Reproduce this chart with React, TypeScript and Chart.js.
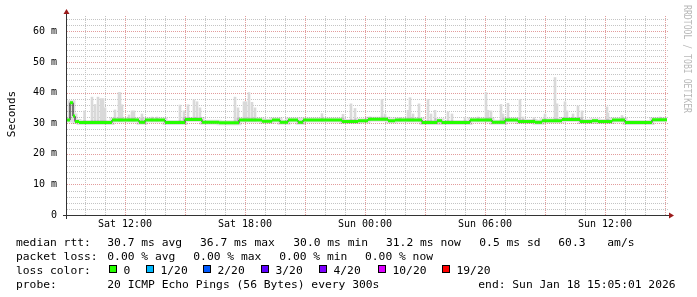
import React, { useEffect, useRef } from "react";
import { Chart, registerables } from "chart.js";

Chart.register(...registerables);

// ---------- data (hours since Sat 00:00) ----------
const xTickValues = [12, 18, 24, 30, 36];
const xTickLabels = ["Sat 12:00", "Sat 18:00", "Sun 00:00", "Sun 06:00", "Sun 12:00"];
const yTickValues = [0, 10, 20, 30, 40, 50, 60];
const yTickLabels = ["0", "10 m", "20 m", "30 m", "40 m", "50 m", "60 m"];

// median rtt (ms), each value holds from its time until the next one
const medianTimes = [
  9.1, 9.25, 9.4, 9.5, 9.7, 11.35, 12.7, 13.0, 14.0, 15.0,
  15.85, 16.7, 17.7, 18.85, 19.35, 19.75, 20.15, 20.65, 20.9, 22.85,
  23.65, 24.15, 25.15, 25.5, 26.85, 27.6, 27.85, 29.25, 30.35, 31.0,
  31.65, 32.5, 32.85, 33.85, 34.75, 35.35, 35.65, 36.35, 37.0, 38.35,
];
const medianValues = [
  31.0, 36.7, 32.3, 30.5, 30.2, 31.0, 30.3, 31.0, 30.2, 31.2,
  30.3, 30.1, 31.0, 30.6, 31.0, 30.3, 31.0, 30.3, 31.0, 30.5,
  30.8, 31.3, 30.8, 31.0, 30.2, 30.8, 30.2, 31.0, 30.3, 31.0,
  30.5, 30.3, 30.8, 31.2, 30.5, 30.8, 30.5, 31.0, 30.2, 31.1,
];

// smoke spikes: time and top value (ms)
const smokeTimes = [
  9.98, 10.35, 10.5, 10.65, 10.8, 10.9, 11.0, 11.5, 11.7, 11.75,
  11.85, 12.2, 12.35, 12.45, 12.85, 13.35, 13.6, 14.75, 14.95, 15.15,
  15.45, 15.6, 15.75, 17.5, 17.65, 17.95, 18.05, 18.2, 18.35, 18.5,
  21.85, 22.9, 23.3, 23.5, 24.25, 24.85, 25.0, 25.75, 26.15, 26.25,
  26.4, 26.7, 27.15, 27.3, 27.5, 28.15, 28.35, 29.0, 29.65, 30.05,
  30.15, 30.3, 30.8, 30.9, 31.15, 31.75, 31.9, 32.45, 33.0, 33.5,
  33.6, 34.0, 34.1, 34.4, 34.65, 34.85, 36.1, 36.15, 36.85, 38.75,
];
const smokeTops = [
  34.0, 38.5, 36.1, 38.5, 38.0, 38.0, 35.0, 34.3, 40.0, 40.0,
  36.0, 32.7, 34.0, 34.0, 33.0, 32.0, 32.0, 35.9, 34.0, 36.0,
  37.6, 37.0, 35.0, 38.5, 35.0, 37.0, 37.0, 40.0, 36.8, 35.0,
  33.1, 32.9, 36.3, 34.8, 32.0, 37.8, 33.0, 31.8, 34.2, 38.3,
  33.0, 36.3, 37.8, 33.0, 34.2, 33.7, 33.0, 31.8, 32.0, 40.0,
  34.2, 34.0, 36.1, 33.0, 36.5, 37.8, 32.0, 31.8, 33.0, 44.9,
  36.3, 37.0, 34.0, 33.0, 35.6, 34.0, 35.3, 33.3, 32.5, 32.0,
];

const statsRtt = ["median rtt:", "30.7 ms avg", "36.7 ms max", "30.0 ms min", "31.2 ms now", "0.5 ms sd", "60.3", "am/s"];
const statsLoss = ["packet loss:", "0.00 % avg", "0.00 % max", "0.00 % min", "0.00 % now"];
const lossTitle = "loss color:";
const lossLabels = ["0", "1/20", "2/20", "3/20", "4/20", "10/20", "19/20"];
const lossColors = ["#26ff00", "#00b8ff", "#0059ff", "#5e00ff", "#7e00ff", "#dd00ff", "#ff0000"];
const probeRow = ["probe:", "20 ICMP Echo Pings (56 Bytes) every 300s", "end: Sun Jan 18 15:05:01 2026"];
const yTitle = "Seconds";
const watermark = "RRDTOOL / TOBI OETIKER";

// ---------- layout ----------
const X_MIN = 9.1;
const X_MAX = 39.1;
const Y_MAX = 65;
const MONO = '"DejaVu Sans Mono"';

function medianAt(t: number): number {
  let v = medianValues[0];
  for (let i = 0; i < medianTimes.length; i++) if (medianTimes[i] <= t) v = medianValues[i];
  return v;
}

const rrdPlugin = {
  id: "rrdDecor",
  beforeDatasetsDraw(chart: any) {
    const { ctx, chartArea, scales } = chart;
    const { left, right, top, bottom } = chartArea;
    const x = scales.x, y = scales.y;
    ctx.save();
    ctx.lineWidth = 1;
    ctx.setLineDash([1, 1]);
    const hLine = (v: number, c: string) => {
      const py = Math.round(y.getPixelForValue(v)) + 0.5;
      ctx.strokeStyle = c;
      ctx.beginPath();
      ctx.moveTo(left, py);
      ctx.lineTo(right + 1, py);
      ctx.stroke();
    };
    const vLine = (v: number, c: string) => {
      const px = Math.round(x.getPixelForValue(v)) + 0.5;
      ctx.strokeStyle = c;
      ctx.beginPath();
      ctx.moveTo(px, top);
      ctx.lineTo(px, bottom);
      ctx.stroke();
    };
    const minorC = "#c4c4c4";
    const majorC = "#e29c9c";
    for (let v = 2; v < Y_MAX; v += 2) if (v % 10 !== 0) hLine(v, minorC);
    for (let h = Math.ceil(X_MIN); h <= X_MAX; h++) if (h % 3 !== 0) vLine(h, minorC);
    for (let v = 10; v < Y_MAX; v += 10) hLine(v, majorC);
    for (let h = Math.ceil(X_MIN); h <= X_MAX; h++) if (h % 3 === 0) vLine(h, majorC);
    ctx.restore();
  },
  afterDatasetsDraw(chart: any) {
    const { ctx, chartArea } = chart;
    const { left, right, top, bottom } = chartArea;
    ctx.save();
    ctx.setLineDash([]);
    ctx.lineWidth = 1;
    ctx.strokeStyle = "#333";
    ctx.beginPath();
    ctx.moveTo(left - 0.5, top - 2);
    ctx.lineTo(left - 0.5, bottom + 4);
    ctx.moveTo(left - 4, bottom + 0.5);
    ctx.lineTo(right + 2, bottom + 0.5);
    ctx.stroke();
    ctx.fillStyle = "#9b1b1b";
    ctx.beginPath();
    ctx.moveTo(left - 3.5, top - 2);
    ctx.lineTo(left + 2.5, top - 2);
    ctx.lineTo(left - 0.5, top - 7);
    ctx.closePath();
    ctx.fill();
    ctx.beginPath();
    ctx.moveTo(right + 2, bottom - 2.5);
    ctx.lineTo(right + 2, bottom + 3.5);
    ctx.lineTo(right + 7, bottom + 0.5);
    ctx.closePath();
    ctx.fill();
    ctx.restore();
  },
  afterDraw(chart: any) {
    const { ctx } = chart;
    ctx.save();
    // y title
    ctx.fillStyle = "#000";
    ctx.font = `11px ${MONO}`;
    ctx.textAlign = "center";
    ctx.textBaseline = "alphabetic";
    ctx.save();
    ctx.translate(15.3, 114);
    ctx.rotate(-Math.PI / 2);
    ctx.fillText(yTitle, 0, 0);
    ctx.restore();
    // watermark
    ctx.save();
    ctx.fillStyle = "#b9b9b9";
    ctx.font = `10.5px ${MONO}`;
    ctx.textAlign = "left";
    const w = ctx.measureText(watermark).width;
    ctx.translate(684, 5);
    ctx.rotate(Math.PI / 2);
    ctx.scale(108 / w, 1);
    ctx.fillText(watermark, 0, 0);
    ctx.restore();
    // legend
    ctx.fillStyle = "#000";
    ctx.font = `11.3px ${MONO}`;
    ctx.textAlign = "left";
    const row1X = [16, 107.3, 200, 293.3, 386, 479.3, 558.3, 607.3];
    statsRtt.forEach((t, i) => ctx.fillText(t, row1X[i], 245.5));
    const row2X = [16, 107.3, 193.3, 279.3, 365];
    statsLoss.forEach((t, i) => ctx.fillText(t, row2X[i], 259.7));
    ctx.fillText(lossTitle, 16, 273.8);
    const sqX = [109, 146, 203, 261, 319, 378, 442];
    lossLabels.forEach((t, i) => {
      const sx = sqX[i];
      ctx.fillStyle = lossColors[i];
      ctx.fillRect(sx, 265, 8, 8);
      ctx.strokeStyle = "#000";
      ctx.lineWidth = 1;
      ctx.strokeRect(sx + 0.5, 265.5, 7, 7);
      ctx.fillStyle = "#000";
      ctx.fillText(t, sx + 14.5, 273.8);
    });
    const row4X = [16, 107.3, 478.3];
    probeRow.forEach((t, i) => ctx.fillText(t, row4X[i], 288));
    ctx.restore();
  },
};

export default function App() {
  const ref = useRef<HTMLCanvasElement | null>(null);
  useEffect(() => {
    if (!ref.current) return;
    // stepped "before": each value holds from its own time until the next point
    const medianData = medianTimes.map((t, i) => ({ x: t, y: medianValues[i] }));
    medianData.push({ x: X_MAX, y: medianValues[medianValues.length - 1] });
    const greenData: { x: number; y: number | null }[] = [];
    medianTimes.forEach((t, i) => {
      const end = i + 1 < medianTimes.length ? medianTimes[i + 1] : X_MAX;
      greenData.push({ x: t, y: medianValues[i] });
      greenData.push({ x: end, y: medianValues[i] });
      greenData.push({ x: end, y: null });
    });
    const smokeData = smokeTimes.map((t, i) => ({ x: t, y: [medianAt(t) - 0.3, smokeTops[i]] }));

    const chart = new Chart(ref.current, {
      type: "line",
      data: {
        datasets: [
          {
            type: "bar",
            data: smokeData as any,
            backgroundColor: "#d9d9d9",
            borderWidth: 0,
            barThickness: 2,
            grouped: false,
            order: 4,
          } as any,
          {
            data: medianData,
            borderColor: "rgba(0,0,0,0.13)",
            borderWidth: 5,
            stepped: "before",
            pointRadius: 0,
            fill: false,
            order: 3,
          },
          {
            data: medianData,
            borderColor: "#111",
            borderWidth: 1,
            stepped: "before",
            pointRadius: 0,
            fill: false,
            order: 2,
          },
          {
            data: greenData as any,
            borderColor: "#26ff00",
            borderWidth: 3,
            borderCapStyle: "butt",
            spanGaps: false,
            pointRadius: 0,
            fill: false,
            order: 1,
          },
        ],
      },
      options: {
        animation: false,
        responsive: false,
        maintainAspectRatio: false,
        layout: { padding: { top: 14, right: 30, bottom: 62, left: 0 } },
        plugins: { legend: { display: false }, tooltip: { enabled: false } },
        scales: {
          x: {
            type: "linear",
            min: X_MIN,
            max: X_MAX,
            offset: false,
            grid: { display: false, drawTicks: false },
            border: { display: false },
            afterBuildTicks: (s: any) => {
              s.ticks = xTickValues.map((v) => ({ value: v }));
            },
            afterFit: (s: any) => {
              s.height = 20;
            },
            ticks: {
              autoSkip: false,
              maxRotation: 0,
              padding: 3,
              color: "#000",
              font: { family: "DejaVu Sans Mono", size: 10 },
              callback: (v: any) => {
                const i = xTickValues.indexOf(Number(v));
                return i >= 0 ? xTickLabels[i] : "";
              },
            },
          },
          y: {
            type: "linear",
            min: 0,
            max: Y_MAX,
            grid: { display: false, drawTicks: false },
            border: { display: false },
            afterBuildTicks: (s: any) => {
              s.ticks = yTickValues.map((v) => ({ value: v }));
            },
            afterFit: (s: any) => {
              s.width = 67;
            },
            ticks: {
              autoSkip: false,
              padding: 10,
              color: "#000",
              font: { family: "DejaVu Sans Mono", size: 10 },
              callback: (v: any) => {
                const i = yTickValues.indexOf(Number(v));
                return i >= 0 ? yTickLabels[i] : "";
              },
            },
          },
        },
      },
      plugins: [rrdPlugin],
    } as any);
    return () => chart.destroy();
  }, []);

  return (
    <div style={{ position: "absolute", left: 0, top: 0, width: 697, height: 297, background: "#fff" }}>
      <canvas ref={ref} width={697} height={297} style={{ width: 697, height: 297, display: "block" }} />
    </div>
  );
}
